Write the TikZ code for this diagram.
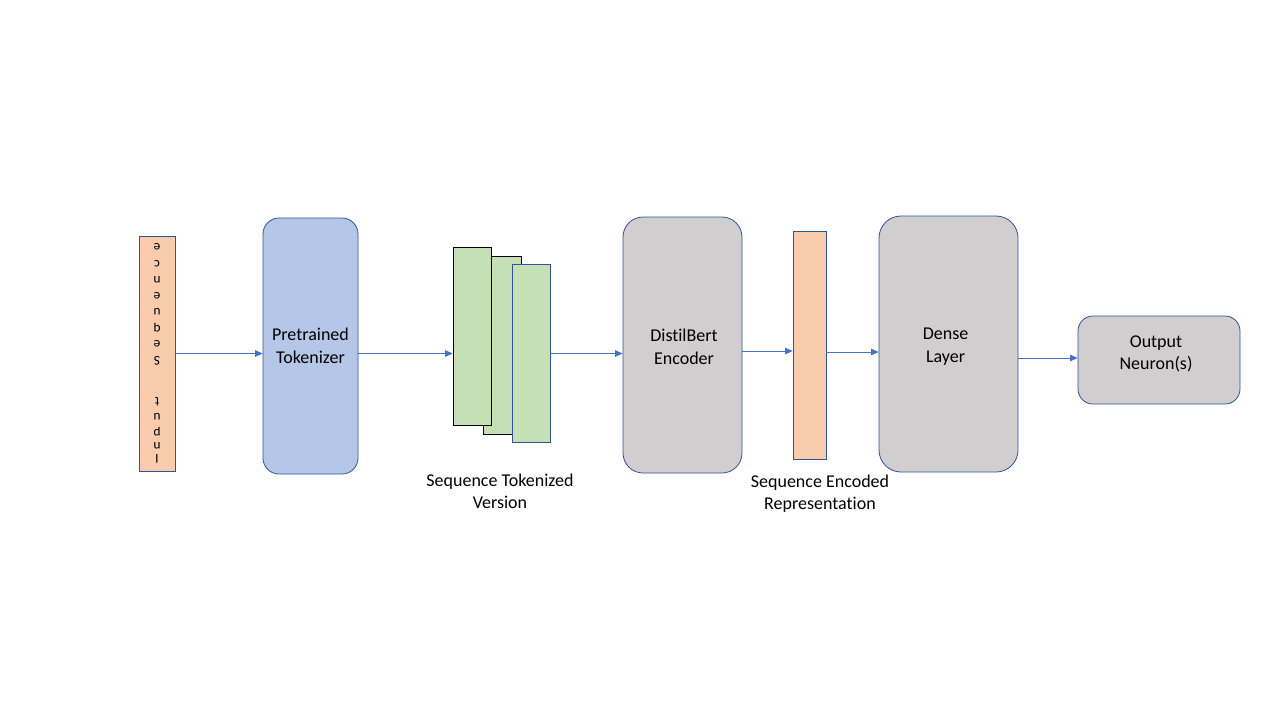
\documentclass[tikz,border=0pt]{standalone}
\usepackage{fontspec}
\setmainfont{Carlito}[Ligatures=NoCommon]
\usepackage{tikz}
\usetikzlibrary{arrows.meta}

\definecolor{peach}{HTML}{F8CBAD}
\definecolor{tokblue}{HTML}{B4C7E7}
\definecolor{seqgreen}{HTML}{C5E0B4}
\definecolor{encgray}{HTML}{D0CECE}
\definecolor{edgeblue}{HTML}{2F5597}
\definecolor{arrowblue}{HTML}{4472C4}

\tikzset{
	blockbox/.style={draw=edgeblue, line width=0.8pt, rounded corners=#1, inner sep=0pt},
	barbox/.style={draw=edgeblue, line width=0.8pt, fill=peach, inner sep=0pt},
	seqbox/.style={draw=#1, line width=0.8pt, fill=seqgreen, minimum width=38pt, minimum height=178pt, inner sep=0pt},
	flow/.style={draw=arrowblue, line width=0.8pt, -{Triangle[length=7.5pt,width=6.5pt]}},
	caption/.style={align=center, inner sep=0pt}
}

\begin{document}
\begin{tikzpicture}[x=1pt, y=-1pt, font=\fontsize{18}{22.5}\selectfont]
			\fill[white] (0,0) rectangle (1280,720);
			\useasboundingbox (0,0) rectangle (1280,720);
			% input sequence bar
			\node[barbox, minimum width=36pt, minimum height=235pt] (inbar) at (157,353.5) {};
			\foreach \ch/\y in {I/459, n/446, p/431.5, u/416.5, t/401.5, S/361, e/343.5, q/327.5, u/311.5, e/295.5, n/280, c/263.5, e/247} {
				\node[rotate=180, inner sep=0pt, font=\fontsize{13.5}{16}\selectfont] at (157,\y) {\ch};
			}
			% tokenizer
			\node[blockbox=16pt, fill=tokblue, minimum width=95pt, minimum height=256pt] (tok) at (310.5,346) {};
			\node[caption] (toktext) at (310.5,346) {Pretrained\\Tokenizer};
			% tokenized sequence
			\node[seqbox=black] (sq2) at (502.5,345) {};
			\node[seqbox=black] (sq1) at (472,336) {};
			\node[seqbox=edgeblue] (sq3) at (531,353.5) {};
			\node[caption] (seqcap) at (500,491.5) {Sequence Tokenized\\Version};
			% encoder
			\node[blockbox=20pt, fill=encgray, minimum width=119pt, minimum height=256pt] (enc) at (682.5,345) {};
			\node[caption] (enctext) at (684,347) {DistilBert\\Encoder};
			\node[barbox, minimum width=33pt, minimum height=228pt] (rep) at (809.5,345) {};
			\node[caption] (repcap) at (820,493.5) {Sequence Encoded\\Representation};
			% dense and output
			\node[blockbox=22pt, fill=encgray, minimum width=139pt, minimum height=256pt] (dense) at (948.5,344) {};
			\node[caption] (densetext) at (945.5,346.5) {Dense\\Layer};
			\node[blockbox=15pt, fill=encgray, minimum width=162pt, minimum height=88pt] (out) at (1159,360) {};
			\node[caption] (outtext) at (1156,354) {Output\\Neuron(s)};
			% connectors
			\draw[flow] (inbar.east) -- (inbar.east -| tok.west);
			\draw[flow] (tok.east |- sq3.center) -- (sq1.west |- sq3.center);
			\draw[flow] (sq3.east) -- (sq3.east -| enc.west);
			\draw[flow] ([yshift=-6pt]enc.east) -- ([yshift=-6pt]enc.east -| rep.west);
			\draw[flow] ([yshift=-7pt]rep.east) -- ([yshift=-7pt]rep.east -| dense.west);
			\draw[flow] ([yshift=2pt]dense.east |- out.west) -- ([yshift=2pt]out.west);
		\end{tikzpicture}
\end{document}
